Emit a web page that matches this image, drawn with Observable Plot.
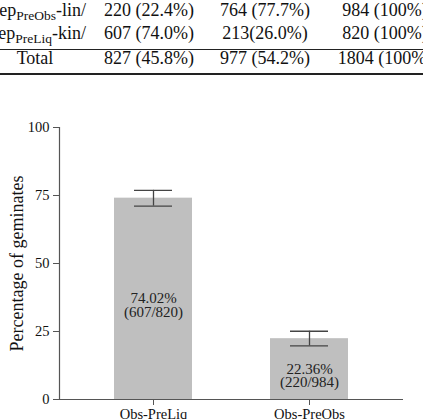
<!DOCTYPE html>
<html>
<head>
<meta charset="utf-8">
<script src="https://cdn.jsdelivr.net/npm/d3@7"></script>
<script src="https://cdn.jsdelivr.net/npm/@observablehq/plot@0.6"></script>
<style>
  html, body { margin: 0; padding: 0; background: #fff; }
  body { width: 423px; height: 419px; overflow: hidden; position: relative; font-family: "Liberation Serif", serif; color: #111; }
  #table { position: absolute; left: 0; top: 0; width: 423px; height: 90px; }
  #table .cell { position: absolute; white-space: nowrap; font-size: 18px; line-height: 1; }
  #table sub { font-size: 13.5px; vertical-align: -4px; line-height: 0; }
  #table .hline { position: absolute; left: 0; width: 423px; background: #222; }
  #chart { position: absolute; left: 0; top: 90px; }
</style>
</head>
<body>
<div id="table"></div>
<div id="chart"></div>
<script>
// ---- Table data ----
const rowPre = ["ep", "ep", "Total"];
const rowSub = ["PreObs", "PreLiq", ""];
const rowPost = ["-lin/", "-kin/", ""];
const colA = ["220 (22.4%)", "607 (74.0%)", "827 (45.8%)"];
const colB = ["764 (77.7%)", "213(26.0%)", "977 (54.2%)"];
const colC = ["984 (100%)", "820 (100%)", "1804 (100%)"];

// ---- Chart data ----
const categories = ["Obs-PreLiq", "Obs-PreObs"];
const percents = [74.02, 22.36];
const geminates = [607, 220];
const totals = [820, 984];
const errLow = [71.1, 19.7];
const errHigh = [76.9, 25.1];
const yTicks = [0, 25, 50, 75, 100];
const yTitle = "Percentage of geminates";

// ---- Build table ----
const table = document.getElementById("table");
const baselines = [15, 38, 63];
function addCell(html, x, baseline, anchor) {
  const d = document.createElement("div");
  d.className = "cell";
  d.innerHTML = html;
  d.style.top = (baseline - 14.5) + "px";
  if (anchor === "end") { d.style.right = (423 - x) + "px"; }
  else { d.style.left = x + "px"; d.style.transform = "translateX(-50%)"; }
  table.appendChild(d);
}
rowPre.forEach((p, i) => {
  if (rowSub[i]) addCell(p + "<sub>" + rowSub[i] + "</sub>" + rowPost[i], 86, baselines[i], "end");
  else addCell(p, 35, baselines[i], "middle");
  addCell(colA[i], 149, baselines[i], "middle");
  addCell(colB[i], 265, baselines[i], "middle");
  addCell(colC[i], 385, baselines[i], "middle");
});
function addLine(y, h) {
  const l = document.createElement("div");
  l.className = "hline";
  l.style.top = y + "px";
  l.style.height = h + "px";
  table.appendChild(l);
}
addLine(48.5, 1);
addLine(72.5, 2);

// ---- Chart ----
const data = categories.map((c, i) => ({
  cat: c,
  pct: percents[i],
  lo: errLow[i],
  hi: errHigh[i],
  label: percents[i].toFixed(2) + "%\n(" + geminates[i] + "/" + totals[i] + ")"
}));

const FONT = "Liberation Serif";
const axisColor = "#555";
const chart = Plot.plot({
  width: 423,
  height: 329,
  marginTop: 37,
  marginBottom: 20,
  marginLeft: 59,
  marginRight: 20,
  style: { fontFamily: FONT, fontSize: "14.5px", color: "#111", background: "transparent", overflow: "visible" },
  x: { type: "band", domain: categories, paddingInner: 0.5, paddingOuter: 0.35, label: null },
  y: { domain: [0, 100], label: null },
  marks: [
    Plot.barY(data, { x: "cat", y: "pct", fill: "#bfbfbf" }),
    Plot.ruleX(data, { x: "cat", y1: "lo", y2: "hi", stroke: "#444", strokeWidth: 1.3 }),
    Plot.tickY(data, { x: "cat", y: "lo", stroke: "#444", strokeWidth: 1.3, insetLeft: 20, insetRight: 20 }),
    Plot.tickY(data, { x: "cat", y: "hi", stroke: "#444", strokeWidth: 1.3, insetLeft: 20, insetRight: 20 }),
    Plot.text(data, { x: "cat", y: d => d.pct / 2, text: "label", fontFamily: FONT, fontSize: 15, lineHeight: 0.88, dy: 7, fill: "#222" }),
    Plot.frame({ anchor: "left", stroke: axisColor, strokeWidth: 1.2 }),
    Plot.ruleY([0], { stroke: axisColor, strokeWidth: 1.2 }),
    Plot.axisY({ ticks: yTicks, tickSize: 6, tickPadding: 4, stroke: axisColor, fill: "#111", fontFamily: FONT, fontSize: 14.5, label: null }),
    Plot.axisX({ tickSize: 6, tickPadding: 3, stroke: axisColor, fill: "#111", fontFamily: FONT, fontSize: 14.5, label: null }),
    Plot.text([{ t: yTitle, y: 50 }], { y: "y", text: "t", frameAnchor: "left", textAnchor: "middle", lineAnchor: "middle", rotate: -90, dx: -42, fontFamily: FONT, fontSize: 18, fill: "#111" })
  ]
});
document.getElementById("chart").appendChild(chart);
</script>
</body>
</html>
